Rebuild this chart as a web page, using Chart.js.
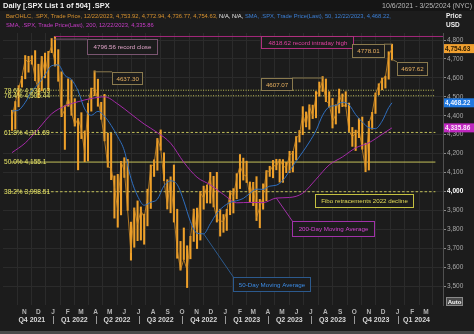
<!DOCTYPE html>
<html lang="en">
<head>
<meta charset="UTF-8" />
<title>.SPX Daily</title>
<style>
  html, body { margin: 0; padding: 0; background: #1c1c1c; }
  canvas { display: block; }
</style>
<script src="https://cdn.jsdelivr.net/npm/chart.js"></script>
</head>
<body>
<canvas id="spx" width="474" height="334"></canvas>
<script>
  // day numbers are counted from 1 Oct 2021
  const T0 = Date.UTC(2021, 9, 1);
  const dayNo = (y, m, d) => Math.round((Date.UTC(y, m - 1, d) - T0) / 864e5);

  // weekly bars, first week centred on Wed 6 Oct 2021
  const firstWeek = dayNo(2021, 10, 6);

  const weekLows = [
    4322, 4329, 4447, 4551, 4595, 4630, 4672, 4585, 4495, 4532, 4600, 4531, 4733,
    4662, 4582, 4395, 4222, 4450, 4402, 4345, 4114, 4279, 4157, 4161, 4424, 4506,
    4450, 4381, 4267, 4128, 4062, 3859, 3811, 3876, 4074, 3900, 3637, 3705,
    3740, 3743, 3721, 3818, 3910, 4079, 4112, 4218, 4057, 3907, 3887, 3838, 3647, 3584,
    3640, 3492, 3644, 3736, 3698, 3743, 3906, 3939, 3938, 3918, 3838, 3764, 3784,
    3794, 3877, 3886, 3961, 4015, 4060, 4047, 3943, 3925, 3846, 3808, 3906, 3951,
    4079, 4072, 4114, 4049, 4048, 4099, 4099, 4103, 4166, 4261, 4300, 4341, 4328,
    4385, 4389, 4503, 4528, 4474, 4446, 4335, 4356, 4414, 4448, 4448, 4316, 4238,
    4216, 4284, 4223, 4104, 4113, 4329, 4412, 4511, 4537, 4546, 4593, 4694
  ];
  const weekHighs = [
    4429, 4475, 4559, 4608, 4718, 4714, 4717, 4744, 4672, 4713, 4731, 4740, 4808,
    4819, 4749, 4632, 4453, 4595, 4589, 4490, 4385, 4416, 4320, 4465, 4546, 4637,
    4593, 4471, 4513, 4308, 4307, 4082, 4090, 4159, 4178, 4169, 3838, 3913,
    3950, 3918, 3880, 4012, 4140, 4167, 4280, 4325, 4204, 4062, 4077, 4140, 3906, 3736,
    3807, 3713, 3763, 3907, 3912, 4000, 4028, 4034, 4101, 4080, 4101, 3906, 3878,
    3906, 4003, 4015, 4094, 4195, 4176, 4160, 4050, 4048, 4078, 3958, 4040, 4110,
    4133, 4164, 4170, 4170, 4168, 4154, 4212, 4212, 4290, 4322, 4448, 4420, 4458,
    4456, 4528, 4578, 4607, 4594, 4527, 4491, 4458, 4541, 4515, 4527, 4467, 4338,
    4324, 4385, 4393, 4255, 4370, 4418, 4520, 4569, 4599, 4609, 4738, 4778
  ];
  const weekCloses = [
    4391, 4471, 4545, 4605, 4697, 4682, 4698, 4595, 4538, 4712, 4620, 4725, 4766,
    4677, 4662, 4398, 4432, 4501, 4419, 4349, 4385, 4329, 4204, 4463, 4543, 4546,
    4488, 4393, 4272, 4132, 4123, 4024, 3901, 4158, 4109, 3901, 3675, 3912,
    3825, 3899, 3863, 3962, 4130, 4145, 4280, 4228, 4058, 3924, 4067, 3873, 3693, 3586,
    3640, 3583, 3753, 3901, 3771, 3993, 3965, 4026, 4072, 3934, 3852, 3845, 3840,
    3895, 3999, 3972, 4071, 4136, 4090, 4079, 3970, 4045, 3861, 3917, 3971, 4109,
    4105, 4138, 4133, 4169, 4136, 4124, 4191, 4205, 4282, 4299, 4410, 4348, 4450,
    4399, 4505, 4536, 4582, 4478, 4464, 4370, 4406, 4516, 4457, 4450, 4320, 4288,
    4308, 4327, 4224, 4117, 4358, 4415, 4514, 4559, 4595, 4604, 4719, 4755
  ];

  // moving averages: 50-day sampled every 2 weeks, 200-day every 4 weeks, last value on the final week
  const ma50 = [
    4425, 4430, 4470, 4530, 4568, 4616, 4664, 4668, 4613, 4591, 4531, 4436, 4402, 4423,
    4397, 4349, 4289, 4215, 4069, 3976, 3927, 3943, 3959, 4030, 4056, 4036, 3949, 3841,
    3779, 3776, 3829, 3885, 3920, 3942, 3951, 3963, 3990, 4012, 4011, 4028, 4033, 4058,
    4109, 4159, 4209, 4261, 4321, 4402, 4447, 4454, 4471, 4458, 4406, 4367, 4337, 4332,
    4371, 4443, 4468.22
  ];
  const ma200 = [
    4205, 4256, 4331, 4410, 4451, 4474, 4491, 4500, 4462, 4409, 4356, 4311, 4255, 4154,
    4075, 4035, 3984, 3940, 3942, 3941, 3965, 3968, 3991, 4064, 4140, 4182, 4230, 4257,
    4302, 4335.86
  ];

  // Fibonacci retracements of the 2022 decline
  const fibLevels = [4534.63, 4505.44, 4311.69, 4155.1, 3998.51];
  const fibNames  = ['78.6%', '76.4%', '61.8%', '50.0%', '38.2%'];
  const fibDash   = [[1, 1.5], [1, 1.5], [2.5, 2], [], [2.5, 2]];

  const yTicks = [3500, 3600, 3700, 3800, 3900, 4000, 4100, 4200, 4300, 4400, 4500, 4600, 4700, 4800];
  const monthLetters = ['J', 'F', 'M', 'A', 'M', 'J', 'J', 'A', 'S', 'O', 'N', 'D'];

  const X_MIN = 2, X_MAX = 902;
  const lastWeek = weekCloses.length - 1;
  const weekX = i => firstWeek + 7 * i;

  const monthTicks = [];
  for (let y = 2021, m = 10; y < 2024 || m <= 3; m++) {
    if (m > 12) { m = 1; y++; }
    const d = dayNo(y, m, 1);
    if (d >= X_MIN && d <= X_MAX) monthTicks.push({ value: d, letter: monthLetters[m - 1] });
    if (y === 2024 && m === 3) break;
  }
  const quarters = [];
  for (let y = 2021, q = 4; y < 2024 || q <= 1; q++) {
    if (q > 4) { q = 1; y++; }
    const s = dayNo(y, (q - 1) * 3 + 1, 1);
    const e = q === 4 ? dayNo(y + 1, 1, 1) : dayNo(y, q * 3 + 1, 1);
    quarters.push({ name: 'Q' + q + ' ' + y, start: s, end: e });
    if (y === 2024 && q === 1) break;
  }

  const bars = weekLows.map((lo, i) => ({ x: weekX(i), y: [lo, weekHighs[i]] }));
  const closes = weekCloses.map((c, i) => ({ x: weekX(i), y: c }));
  const ma50Pts = ma50.map((v, i) => ({ x: i === ma50.length - 1 ? weekX(lastWeek) : weekX(i * 2), y: v }));
  const ma200Pts = ma200.map((v, i) => ({ x: i === ma200.length - 1 ? weekX(lastWeek) : weekX(i * 4), y: v }));

  const fibSets = fibLevels.map((v, i) => ({
    type: 'line', order: 10,
    data: [{ x: X_MIN, y: v }, { x: X_MAX, y: v }],
    borderColor: '#c4c25a', borderWidth: 1, borderDash: fibDash[i],
    pointRadius: 0
  }));

  const FONT = '"Liberation Sans", Arial, sans-serif';

  function box(ctx, x, y, w, h, text, border, color) {
    ctx.fillStyle = '#1c1c1c';
    ctx.fillRect(x, y, w, h);
    ctx.strokeStyle = border;
    ctx.lineWidth = 1;
    ctx.strokeRect(Math.round(x) + 0.5, Math.round(y) + 0.5, Math.round(w), Math.round(h));
    ctx.fillStyle = color;
    ctx.textAlign = 'center';
    ctx.textBaseline = 'middle';
    ctx.fillText(text, x + w / 2 + 0.5, y + h / 2 + 1);
  }
  function lead(ctx, x1, y1, x2, y2, color) {
    ctx.strokeStyle = color;
    ctx.lineWidth = 1;
    ctx.beginPath();
    ctx.moveTo(x1, y1);
    ctx.lineTo(x2, y2);
    ctx.stroke();
  }
  function parts(ctx, list, x, y) {
    ctx.textAlign = 'left';
    for (const [t, c] of list) {
      ctx.fillStyle = c;
      ctx.fillText(t, x, y);
      x += ctx.measureText(t).width;
    }
  }
  function badge(ctx, ys, v, bg, fg) {
    const y = ys.getPixelForValue(v);
    ctx.fillStyle = bg;
    ctx.fillRect(444, y - 4.5, 30, 9);
    ctx.fillStyle = fg;
    ctx.font = 'bold 6.5px ' + FONT;
    ctx.textAlign = 'left';
    ctx.textBaseline = 'middle';
    ctx.fillText(v.toLocaleString('en-US', { minimumFractionDigits: 2 }), 445, y + 0.5);
  }

  const overlay = {
    id: 'overlay',
    afterDraw(chart) {
      const ctx = chart.ctx;
      const xs = chart.scales.x, ys = chart.scales.y;
      const area = chart.chartArea;
      const px = d => xs.getPixelForValue(d);
      const py = v => ys.getPixelForValue(v);
      ctx.save();

      // title row
      ctx.fillStyle = '#151515';
      ctx.fillRect(0, 0, 474, 11);
      ctx.textBaseline = 'middle';
      ctx.font = 'bold 7.5px ' + FONT;
      ctx.fillStyle = '#f0f0f0';
      ctx.textAlign = 'left';
      ctx.fillText('Daily [.SPX List 1 of 504] .SPX', 3, 6);
      ctx.font = '7px ' + FONT;
      ctx.fillStyle = '#b8b8b8';
      ctx.textAlign = 'right';
      ctx.fillText('10/6/2021 - 3/25/2024 (NYC)', 472, 6);

      // series legend
      ctx.font = '5.8px ' + FONT;
      parts(ctx, [
        ['BarOHLC, .SPX, Trade Price, 12/22/2023, 4,753.92, 4,772.94, 4,736.77, 4,754.63, ', '#d8922e'],
        ['N/A, N/A, ', '#e8e8e8'],
        ['SMA, .SPX, Trade Price(Last), 50, 12/22/2023, 4,468.22,', '#3b7fd6']
      ], 6, 16);
      parts(ctx, [['SMA, .SPX, Trade Price(Last), 200, 12/22/2023, 4,335.86', '#c83cc8']], 6, 25);
      ctx.font = 'bold 6.5px ' + FONT;
      ctx.fillStyle = '#f0f0f0';
      ctx.textAlign = 'left';
      ctx.fillText('Price', 446, 16);
      ctx.fillText('USD', 446, 25);

      // record high line
      const hx = px(dayNo(2022, 1, 4)), hy = py(4818.62);
      lead(ctx, hx, hy, area.right, hy, '#a4287c');

      // fib labels
      ctx.font = '6.6px ' + FONT;
      fibLevels.forEach((v, i) => {
        ctx.fillStyle = '#e6e466';
        ctx.textAlign = 'left';
        ctx.textBaseline = 'middle';
        ctx.fillText(fibNames[i] + ' ' + v.toLocaleString('en-US'), 4, py(v) + 0.5);
      });

      ctx.font = '6.2px ' + FONT;
      // price annotations
      const cx = px(dayNo(2022, 1, 3)), cy = py(4796.56);
      lead(ctx, cx, cy - 1.5, cx + 33, cy - 1.5, '#7a5570');
      box(ctx, cx + 33, cy - 1.5, 70, 15, '4796.56 record close', '#7a5570', '#e0a4c8');
      box(ctx, hx + 207, hy, 92, 12, '4818.62 record intraday high', '#b0307e', '#e040a0');

      const ax = px(dayNo(2022, 3, 29)), ay = py(4637.30);
      lead(ctx, ax, ay + 1, ax + 18, ay + 1, '#8a7a4e');
      box(ctx, ax + 18, ay + 1, 30, 12, '4637.30', '#8a7a4e', '#e8b060');

      const bx = px(dayNo(2023, 7, 27)), by = py(4607.07);
      lead(ctx, bx - 31, by + 1.5, bx, by + 1.5, '#8a7a4e');
      box(ctx, bx - 62, by + 1.5, 31, 12, '4607.07', '#8a7a4e', '#e8b060');

      const dx = px(dayNo(2023, 12, 20)), dy = py(4778.01);
      lead(ctx, dx - 8, dy, dx, dy, '#8a7a4e');
      box(ctx, dx - 40, dy, 32, 13, '4778.01', '#8a7a4e', '#e8b060');

      const ex = dx, ey = py(4697.62);
      lead(ctx, ex, ey, ex + 5, ey + 2.5, '#8a7a4e');
      box(ctx, ex + 5, ey + 2.5, 30, 13, '4697.62', '#8a7a4e', '#e8b060');

      box(ctx, 315, py(3998.51) + 2.5, 98, 13, 'Fibo retracements 2022 decline', '#c4c040', '#e4dc58');

      const p200 = chart.getDatasetMeta(3).data[20];
      lead(ctx, p200.x, p200.y, 293, 222, '#a032a8');
      box(ctx, 292, 221, 82, 15, '200-Day Moving Average', '#a032a8', '#d444d4');

      const p50 = chart.getDatasetMeta(2).data[29];
      lead(ctx, p50.x, p50.y, 234, 278, '#2c5a8e');
      box(ctx, 233, 277, 77, 14, '50-Day Moving Average', '#2c5a8e', '#3c8ce6');

      // last value badges on the price axis
      badge(ctx, ys, 4754.63, '#f0a030', '#2a1a00');
      badge(ctx, ys, 4468.22, '#1f78e0', '#e8f2ff');
      badge(ctx, ys, 4335.86, '#c028c0', '#fbe8fb');

      // quarter row
      ctx.font = 'bold 7px ' + FONT;
      ctx.textBaseline = 'middle';
      quarters.forEach(q => {
        const s = Math.max(q.start, X_MIN), e = Math.min(q.end, X_MAX);
        ctx.fillStyle = '#d8d8d8';
        ctx.textAlign = 'center';
        ctx.fillText(q.name, px((s + e) / 2), 320);
        if (q.start > X_MIN) {
          ctx.fillStyle = '#9a9a9a';
          ctx.fillRect(Math.round(px(q.start)), 316, 1, 8);
        }
      });

      // autoscale button
      ctx.fillStyle = '#4a4a4a';
      ctx.fillRect(446, 297, 17, 9);
      ctx.strokeStyle = '#8a8a8a';
      ctx.strokeRect(446.5, 297.5, 16, 8);
      ctx.fillStyle = '#f4f4f4';
      ctx.font = 'bold 6px ' + FONT;
      ctx.textAlign = 'center';
      ctx.fillText('Auto', 454.5, 302);

      ctx.fillStyle = '#4a4a4a';
      ctx.fillRect(0, 331, 474, 3);
      ctx.restore();
    }
  };

  const ctx = document.getElementById('spx').getContext('2d');
  const chart = new Chart(ctx, {
    type: 'bar',
    data: {
      datasets: [
        {
          type: 'bar', order: 5,
          data: bars,
          backgroundColor: '#eea02a',
          barThickness: 1.4,
          grouped: false
        },
        {
          type: 'line', order: 4,
          data: closes,
          borderColor: '#d89026', borderWidth: 0.8,
          pointRadius: 0
        },
        {
          type: 'line', order: 1,
          data: ma50Pts,
          borderColor: '#2f6fbf', borderWidth: 1,
          pointRadius: 0, cubicInterpolationMode: 'monotone'
        },
        {
          type: 'line', order: 1,
          data: ma200Pts,
          borderColor: '#a52aa8', borderWidth: 1,
          pointRadius: 0, cubicInterpolationMode: 'monotone'
        },
        ...fibSets
      ]
    },
    options: {
      responsive: false,
      animation: false,
      layout: { padding: { top: 33, left: 3, right: 0, bottom: 0 } },
      plugins: { legend: { display: false }, tooltip: { enabled: false } },
      scales: {
        x: {
          type: 'linear', min: X_MIN, max: X_MAX,
          afterBuildTicks: ax => { ax.ticks = monthTicks.map(t => ({ value: t.value })); },
          afterFit: ax => { ax.height = 29; },
          grid: { color: '#2b2b2b', drawTicks: false },
          border: { display: false },
          ticks: {
            autoSkip: false, maxRotation: 0, padding: 3,
            color: '#b4b4b4',
            font: { family: FONT, size: 6.5, weight: 'bold' },
            callback: v => (monthTicks.find(t => t.value === v) || {}).letter || ''
          }
        },
        y: {
          position: 'right', min: 3400, max: 4837,
          afterBuildTicks: ax => { ax.ticks = yTicks.map(v => ({ value: v })); },
          afterFit: ax => { ax.width = 31; },
          grid: { color: '#2b2b2b', tickLength: 3, tickColor: '#8a8a8a' },
          border: { color: '#505050' },
          ticks: {
            padding: 1,
            color: c => c.tick.value === 4000 ? '#ffffff' : '#a8a8a8',
            font: c => ({ family: FONT, size: 6.5, weight: c.tick && c.tick.value === 4000 ? 'bold' : 'normal' }),
            callback: v => v.toLocaleString('en-US')
          }
        }
      }
    },
    plugins: [overlay]
  });
</script>
</body>
</html>
